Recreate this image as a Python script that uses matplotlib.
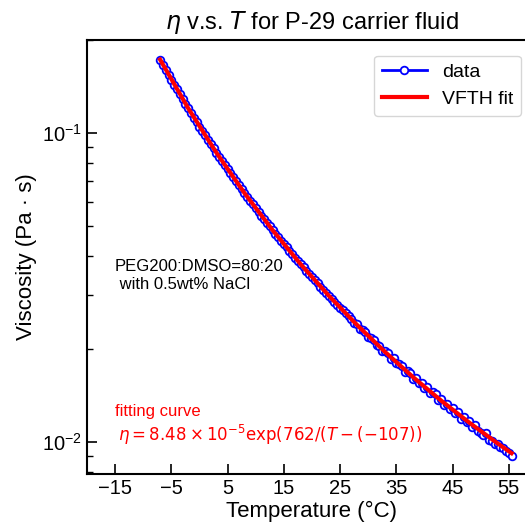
import numpy as np
import matplotlib
matplotlib.use("Agg")
import matplotlib.pyplot as plt
from matplotlib.ticker import FixedLocator, FixedFormatter, NullFormatter, LogLocator

plt.rcParams['font.family'] = ['Liberation Sans', 'DejaVu Sans']

temps = [-7.0, -6.5, -6.0, -5.5, -5.0, -4.5, -4.0, -3.5, -3.0, -2.5,
         -2.0, -1.5, -1.0, -0.5, 0.0, 0.5, 1.0, 1.5, 2.0, 2.5,
         3.0, 3.5, 4.0, 4.5, 5.0, 5.5, 6.0, 6.5, 7.0, 7.5,
         8.0, 8.5, 9.0, 9.5, 10.0, 10.5, 11.0, 11.5, 12.0, 12.5,
         13.0, 13.5, 14.0, 14.5, 15.0, 15.5, 16.0, 16.5, 17.0, 17.5,
         18.0, 18.5, 19.0, 19.5, 20.0, 20.5, 21.0, 21.5, 22.0, 22.5,
         23.0, 23.5, 24.0, 24.5, 25.0, 25.5, 26.0, 26.5, 27.0, 27.5,
         28.0, 28.5, 29.0, 29.5, 30.0, 30.5, 31.0, 31.5, 32.0, 32.5,
         33.0, 33.5, 34.0, 34.5, 35.0, 35.5, 36.0, 36.5, 37.0, 37.5,
         38.0, 38.5, 39.0, 39.5, 40.0, 40.5, 41.0, 41.5, 42.0, 42.5,
         43.0, 43.5, 44.0, 44.5, 45.0, 45.5, 46.0, 46.5, 47.0, 47.5,
         48.0, 48.5, 49.0, 49.5, 50.0, 50.5, 51.0, 51.5, 52.0, 52.5,
         53.0, 53.5, 54.0, 54.5, 55.0, 55.5]
visc = [0.1729, 0.1664, 0.1603, 0.1545, 0.1489, 0.1436, 0.1385, 0.1336, 0.1290, 0.1245,
        0.1203, 0.1162, 0.1123, 0.1086, 0.1050, 0.1016, 0.0983, 0.0952, 0.0921, 0.0893,
        0.0865, 0.0838, 0.0812, 0.0788, 0.0764, 0.0741, 0.0720, 0.0698, 0.0678, 0.0659,
        0.0640, 0.0622, 0.0604, 0.0588, 0.0571, 0.0556, 0.0541, 0.0526, 0.0512, 0.0499,
        0.0486, 0.0473, 0.0461, 0.0449, 0.0438, 0.0427, 0.0416, 0.0406, 0.0396, 0.0386,
        0.0377, 0.0368, 0.0359, 0.0350, 0.0342, 0.0334, 0.0327, 0.0319, 0.0312, 0.0305,
        0.0298, 0.0291, 0.0285, 0.0279, 0.0271, 0.0268, 0.0261, 0.0257, 0.0250, 0.0244,
        0.0241, 0.0233, 0.0231, 0.0227, 0.0219, 0.0217, 0.0214, 0.0206, 0.0205, 0.0198,
        0.0197, 0.0194, 0.0186, 0.0187, 0.0180, 0.0179, 0.0177, 0.0169, 0.0170, 0.0167,
        0.0160, 0.0161, 0.0155, 0.0156, 0.0150, 0.0151, 0.0144, 0.0145, 0.0143, 0.0137,
        0.0138, 0.0132, 0.0133, 0.0128, 0.0129, 0.0124, 0.0125, 0.0119, 0.0121, 0.0116,
        0.0117, 0.0112, 0.0114, 0.0109, 0.0107, 0.0106, 0.0107, 0.0102, 0.0101, 0.0099,
        0.00985, 0.00965, 0.00960, 0.00935, 0.00925, 0.00900]

# VFTH fit curve points
fit_T = [-7.0, -2.0, 3.0, 8.0, 13.0, 18.0, 23.0, 28.0, 33.0, 38.0, 43.0, 48.0, 53.0, 55.5]
fit_visc = [0.1729, 0.1203, 0.08648, 0.06399, 0.04855, 0.03766, 0.02979, 0.02398,
            0.01960, 0.01624, 0.01363, 0.01157, 0.009925, 0.009224]

xticks = [-15, -5, 5, 15, 25, 35, 45, 55]

fig = plt.figure(figsize=(5.25, 5.23), dpi=100)
ax = fig.add_axes([0.1657, 0.0937, 0.857, 0.8298])

ax.plot(temps, visc, '-o', color='blue', mfc='white', mec='blue', ms=5.5, mew=1.3, lw=2, label='data')
ax.plot(fit_T, fit_visc, '-', color='red', lw=3, label='VFTH fit')

ax.set_yscale('log')
ax.set_xlim(-20, 60)
ax.set_ylim(0.0079, 0.2)

ax.xaxis.set_major_locator(FixedLocator(xticks))
ax.set_xticklabels([str(t).replace('-', '\u2212') for t in xticks])
ax.yaxis.set_major_locator(FixedLocator([0.01, 0.1]))
ax.yaxis.set_major_formatter(FixedFormatter([r'$\mathregular{10^{-2}}$', r'$\mathregular{10^{-1}}$']))
ax.yaxis.set_minor_locator(LogLocator(base=10, subs=np.arange(2, 10)))
ax.yaxis.set_minor_formatter(NullFormatter())

ax.tick_params(which='major', direction='in', length=7, width=1.2, labelsize=14.5)
ax.tick_params(which='minor', direction='in', length=4, width=1)
for s in ax.spines.values():
    s.set_linewidth(1.5)

ax.set_xlabel('Temperature (°C)', fontsize=16, labelpad=2)
ax.set_ylabel('Viscosity (Pa \u00b7 s)', fontsize=16)
ax.set_title(r'$\eta$ v.s. $T$ for P-29 carrier fluid', fontsize=17, pad=8)

ax.text(0.062, 0.495, 'PEG200:DMSO=80:20\n with 0.5wt% NaCl', transform=ax.transAxes,
        fontsize=12, va='top', ha='left')
ax.text(0.062, 0.143, 'fitting curve', transform=ax.transAxes, color='red',
        fontsize=12, va='center', ha='left')
ax.text(0.07, 0.09, r'$\eta = 8.48\times10^{-5}\exp(762/(T-(-107))$', transform=ax.transAxes,
        color='red', fontsize=12, va='center', ha='left')

ax.legend(loc='upper right', fontsize=14, handlelength=2.3, borderaxespad=0.8)

fig.savefig('out.png', dpi=100)
